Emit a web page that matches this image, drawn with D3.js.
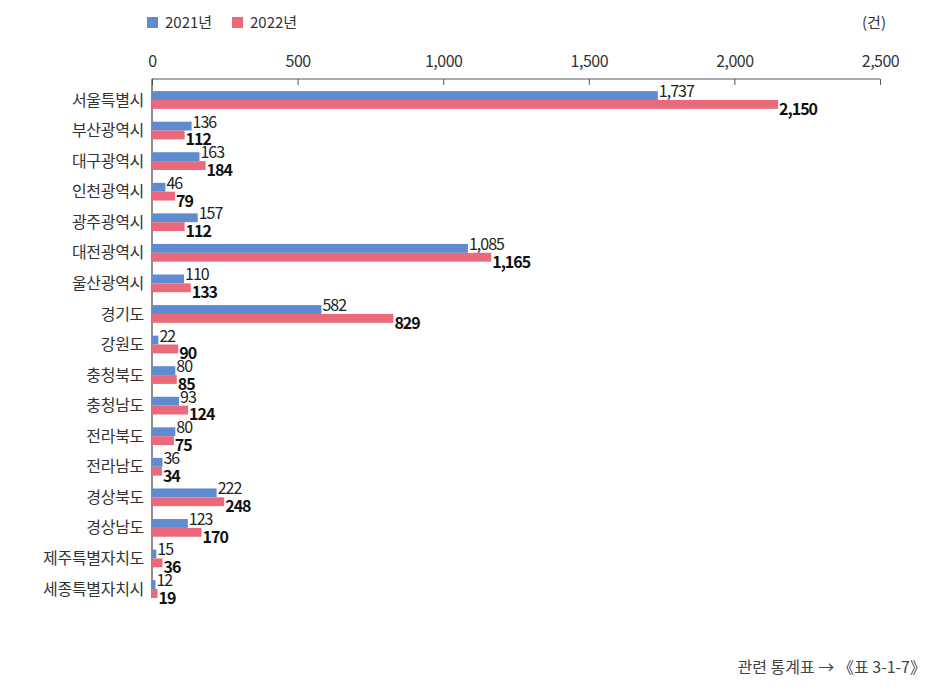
<!DOCTYPE html>
<html>
<head>
<meta charset="utf-8">
<script src="https://cdn.jsdelivr.net/npm/d3@7"></script>
<style>
  body { margin: 0; background: #fff; }
  text { font-family: "Noto Sans CJK KR", "Noto Sans", sans-serif; }
</style>
</head>
<body>
<svg id="chart"></svg>
<script>
// Data
var regions = ["서울특별시", "부산광역시", "대구광역시", "인천광역시", "광주광역시", "대전광역시",
    "울산광역시", "경기도", "강원도", "충청북도", "충청남도", "전라북도", "전라남도",
    "경상북도", "경상남도", "제주특별자치도", "세종특별자치시"];
var values2021 = [1737, 136, 163, 46, 157, 1085, 110, 582, 22, 80, 93, 80, 36, 222, 123, 15, 12];
var values2022 = [2150, 112, 184, 79, 112, 1165, 133, 829, 90, 85, 124, 75, 34, 248, 170, 36, 19];
var seriesNames = ["2021년", "2022년"];
var tickValues = [0, 500, 1000, 1500, 2000, 2500];

var width = 941;
var height = 695;
var blue = "#5f8bd0";
var red = "#ea6a7c";

var svg = d3.select("#chart")
    .attr("width", width)
    .attr("height", height);

var x = d3.scaleLinear()
    .domain([0, 2500])
    .range([152, 880]);

var y = d3.scaleBand()
    .domain(regions)
    .range([85, 604])
    .paddingInner(0.42)
    .paddingOuter(0.2);

// top axis
var axis = d3.axisTop(x)
    .tickValues(tickValues)
    .tickSize(6)
    .tickSizeOuter(0)
    .tickFormat(d3.format(","));

var ax = svg.append("g")
    .attr("transform", "translate(0,79)")
    .call(axis);
ax.select(".domain").attr("stroke", "#555").attr("d", "M152,0H880");
ax.selectAll(".tick line").attr("stroke", "#555").attr("y2", 6);
ax.selectAll(".tick text")
    .attr("y", -12)
    .attr("fill", "#333")
    .style("font-size", "16px")
    .style("letter-spacing", "-0.5px")
    .style("font-family", "'Noto Sans CJK KR', sans-serif");

// vertical baseline
svg.append("line")
    .attr("x1", x(0)).attr("x2", x(0))
    .attr("y1", 79).attr("y2", 598)
    .attr("stroke", "#444")
    .attr("stroke-width", 1.2);

// category labels
svg.selectAll(".cat")
    .data(regions)
    .enter().append("text")
    .attr("class", "cat")
    .attr("x", 144)
    .attr("y", function (d) { return y(d) + y.bandwidth() / 2; })
    .attr("dy", "0.35em")
    .attr("text-anchor", "end")
    .attr("fill", "#333")
    .style("font-size", "16px")
    .style("letter-spacing", "-0.3px")
    .text(function (d) { return d; });

var barH = y.bandwidth() / 2;

// 2021 bars
svg.selectAll(".b21")
    .data(values2021)
    .enter().append("rect")
    .attr("class", "b21")
    .attr("x", x(0))
    .attr("y", function (d, i) { return y(regions[i]); })
    .attr("width", function (d) { return x(d) - x(0); })
    .attr("height", barH)
    .attr("fill", blue);

// 2022 bars
svg.selectAll(".b22")
    .data(values2022)
    .enter().append("rect")
    .attr("class", "b22")
    .attr("x", x(0))
    .attr("y", function (d, i) { return y(regions[i]) + barH; })
    .attr("width", function (d) { return x(d) - x(0); })
    .attr("height", barH)
    .attr("fill", red);

var fmt = d3.format(",");

// value labels
svg.selectAll(".l21")
    .data(values2021)
    .enter().append("text")
    .attr("class", "l21")
    .attr("x", function (d) { return x(d) + 1; })
    .attr("y", function (d, i) { return y(regions[i]) + barH - 3; })
    .attr("fill", "#222")
    .style("font-size", "16px")
    .style("letter-spacing", "-1px")
    .text(function (d) { return fmt(d); });

svg.selectAll(".l22")
    .data(values2022)
    .enter().append("text")
    .attr("class", "l22")
    .attr("x", function (d) { return x(d) + 1; })
    .attr("y", function (d, i) { return y(regions[i]) + 2 * barH + 6; })
    .attr("fill", "#111")
    .style("font-size", "16px")
    .style("font-weight", "bold")
    .style("letter-spacing", "-1px")
    .text(function (d) { return fmt(d); });

// legend
var legend = svg.append("g").attr("transform", "translate(147,22)");
[blue, red].forEach(function (c, i) {
    var lg = legend.append("g").attr("transform", "translate(" + (i * 85) + ",0)");
    lg.append("rect").attr("x", 0).attr("y", -5).attr("width", 11).attr("height", 11).attr("fill", c);
    lg.append("text").attr("x", 18).attr("dy", "0.38em")
        .attr("fill", "#333").style("font-size", "15px").text(seriesNames[i]);
});

// unit
svg.append("text")
    .attr("x", 886).attr("y", 22).attr("dy", "0.38em")
    .attr("text-anchor", "end")
    .attr("fill", "#333").style("font-size", "15px")
    .text("(건)");

// footer
svg.append("text")
    .attr("x", 926).attr("y", 667).attr("dy", "0.35em")
    .attr("text-anchor", "end")
    .attr("fill", "#444").style("font-size", "16px")
    .text("관련 통계표 → 《표 3-1-7》");
</script>
</body>
</html>
